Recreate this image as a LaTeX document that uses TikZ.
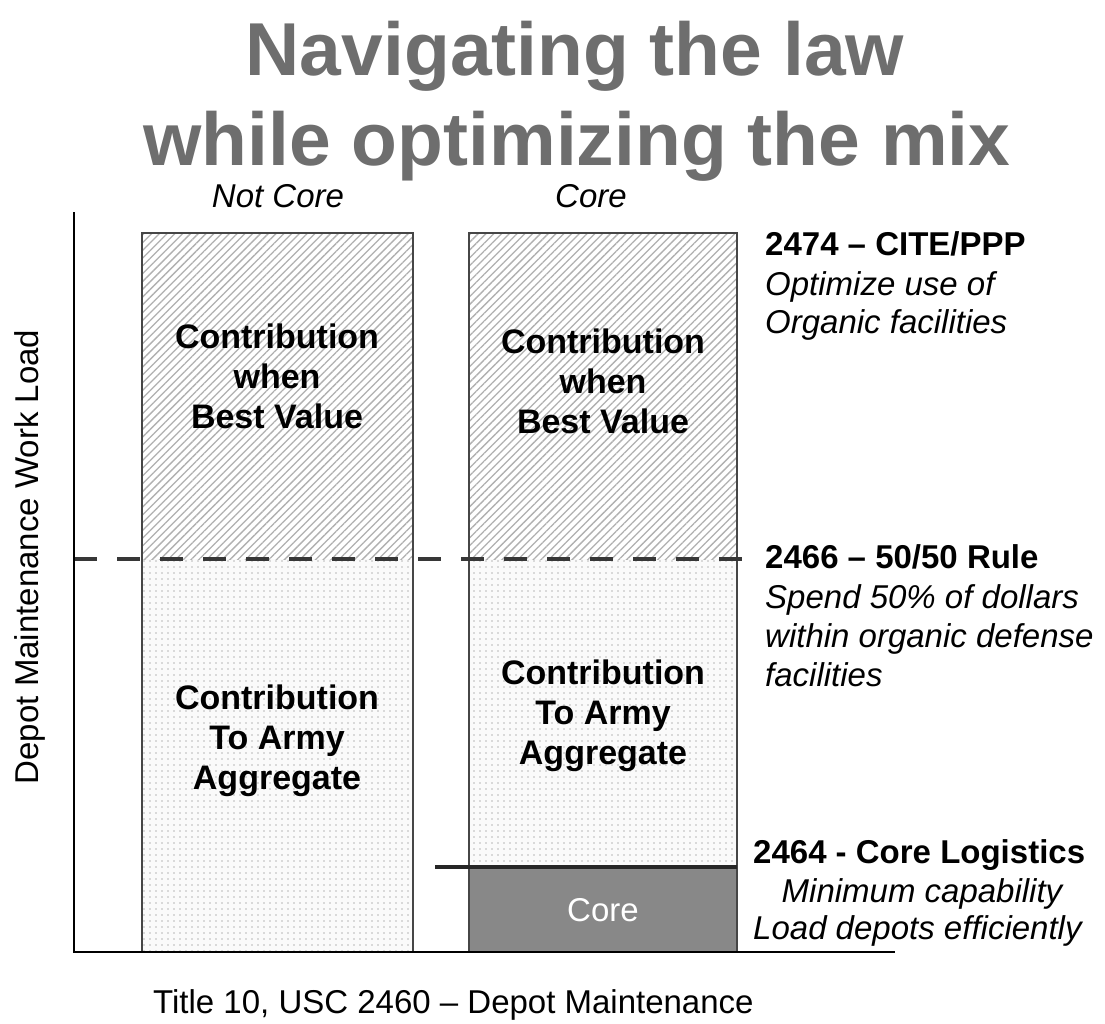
\documentclass[tikz,border=0pt]{standalone}
\usepackage{fontspec}
\setmainfont{Liberation Sans}
\usetikzlibrary{patterns.meta}
\definecolor{titlegray}{RGB}{110,110,110}
\definecolor{coregray}{RGB}{136,136,136}
\definecolor{edgegray}{RGB}{70,70,70}
\definecolor{dashgray}{RGB}{55,55,55}
\begin{document}
\begin{tikzpicture}[x=1pt,y=-1pt,
  hatch/.style={pattern={Lines[angle=45,distance=5.5pt,line width=1.3pt]},pattern color=gray!62},
  stipple/.style={pattern={Dots[distance=6pt,radius=0.8pt]},pattern color=gray!55},
  boxedge/.style={draw=edgegray,line width=1.6pt},
  axisline/.style={draw=black,line width=2.6pt},
  dashline/.style={draw=dashgray,line width=3.6pt,dash pattern=on 23pt off 20pt},
  coreline/.style={draw=black!85,line width=3.6pt},
  titlefont/.style={font=\fontsize{75}{80}\bfseries\selectfont,text=titlegray,anchor=base,inner sep=0pt},
  colhead/.style={font=\fontsize{33}{40}\itshape\selectfont,anchor=base,inner sep=0pt},
  boxtext/.style={font=\fontsize{34}{40}\bfseries\selectfont,align=center},
  rulehead/.style={font=\fontsize{33}{40}\bfseries\selectfont,anchor=base west,inner sep=0pt},
  rulenote/.style={font=\fontsize{33}{40}\itshape\selectfont,anchor=base west,inner sep=0pt},
  plainlab/.style={font=\fontsize{33}{40}\selectfont,inner sep=0pt}]
\useasboundingbox (0,0) rectangle (1105,1023);
\fill[white] (0,0) rectangle (1105,1023);
% named corners
\coordinate (Ltop) at (142,233);
\coordinate (Rtop) at (469,233);
% fills
\fill[gray!4] (142,559) rectangle (413,952);
\fill[gray!4] (469,559) rectangle (737,867);
\path[hatch] (142,233) rectangle (413,559);
\path[stipple] (142,559) rectangle (413,952);
\path[hatch] (469,233) rectangle (737,559);
\path[stipple] (469,559) rectangle (737,867);
\fill[coregray] (469,867) rectangle (737,952);
% box edges
\draw[boxedge] (142,952) -- (Ltop) -- (413,233) -- (413,952);
\draw[boxedge] (469,952) -- (Rtop) -- (737,233) -- (737,952);
% rules
\coordinate (dashA) at (74,559);
\coordinate (dashB) at (758,559);
\draw[dashline] (dashA) -- (dashB);
\coordinate (coreA) at (435,867);
\coordinate (coreB) at (737,867);
\draw[coreline] (coreA) -- (coreB);
% axes
\coordinate (ytop) at (74,212);
\coordinate (origin) at (74,952);
\coordinate (xend) at (895,952);
\draw[axisline] (ytop) -- (origin) -- (xend);
% title
\node[titlefont] (title1) at (575,75) {Navigating the law};
\node[titlefont] (title2) at (577,165) {while optimizing the mix};
% column heads
\node[colhead] (notcore) at (278,207) {Not Core};
\node[colhead] (corehead) at (591,207) {Core};
% box texts
\node[boxtext] (lbv) at (277,376) {Contribution\\when\\Best Value};
\node[boxtext] (rbv) at (603,381) {Contribution\\when\\Best Value};
\node[boxtext] (laa) at (277,741) {Contribution\\To Army\\Aggregate};
\node[boxtext] (raa) at (603,716) {Contribution\\To Army\\Aggregate};
\node[plainlab,text=white] (coretxt) at (603,910) {Core};
% axis labels
\node[plainlab,rotate=90] (ylab) at (30,557) {Depot Maintenance Work Load};
\node[plainlab,anchor=base west] (xlab) at (153,1013) {Title 10, USC 2460 – Depot Maintenance};
% right notes
\node[rulehead] (r1) at (765,255) {2474 – CITE/PPP};
\node[rulenote] (r1a) at (765,295) {Optimize use of};
\node[rulenote] (r1b) at (765,333) {Organic facilities};
\node[rulehead] (r2) at (765,568) {2466 – 50/50 Rule};
\node[rulenote] (r2a) at (765,608) {Spend 50\% of dollars};
\node[rulenote] (r2b) at (765,647) {within organic defense};
\node[rulenote] (r2c) at (765,686) {facilities};
\node[rulehead] (r3) at (753,863) {2464 - Core Logistics};
\node[rulenote,anchor=base] (r3a) at (922,902) {Minimum capability};
\node[rulenote] (r3b) at (753,939) {Load depots efficiently};
\end{tikzpicture}
\end{document}
